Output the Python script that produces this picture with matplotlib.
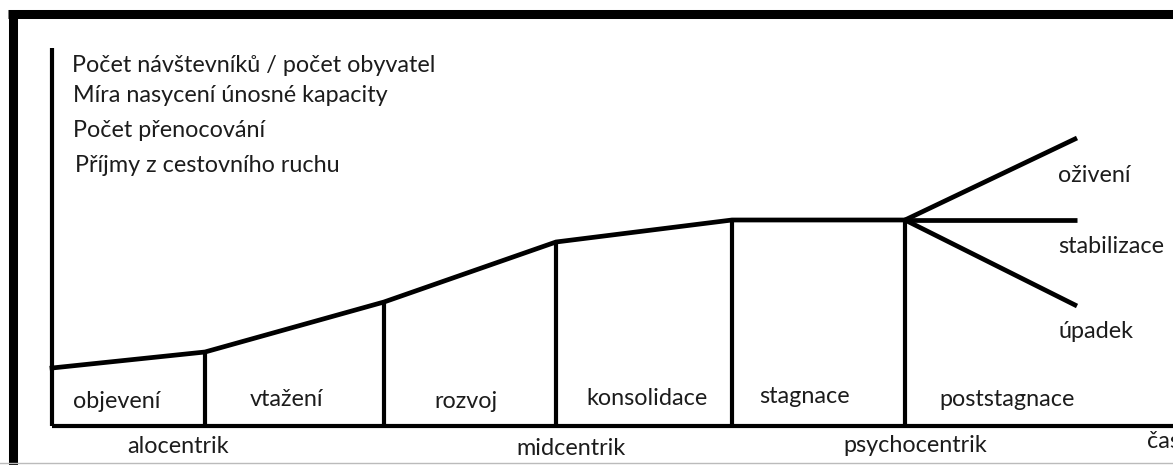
"""plot.py"""

import matplotlib.pyplot as plt
from matplotlib.lines import Line2D

# hranice fazi na ose casu a uroven krivky v techto bodech
phase_bounds = [0.0, 15.3, 33.2, 50.4, 68.0, 85.3]
curve_levels = [5.8, 7.4, 12.4, 18.4, 20.6, 20.6]
phase_names = ["objevení", "vtažení", "rozvoj", "konsolidace", "stagnace", "poststagnace"]
phase_label_x = [6.5, 23.4, 41.4, 59.5, 75.3, 95.5]
phase_label_y = [1.8, 2.0, 1.8, 2.1, 2.3, 2.0]

# vetve po stagnaci
branch_end_x = 102.5
branch_levels = [28.8, 20.6, 12.0]
branch_names = ["oživení", "stabilizace", "úpadek"]
branch_label_y = [24.4, 17.3, 8.8]

# ukazatele na ose y
indicators = [
    "Počet návštevníků / počet obyvatel",
    "Míra nasycení únosné kapacity",
    "Počet přenocování",
    "Příjmy z cestovního ruchu",
]
indicator_x = [2.0, 2.1, 2.1, 2.3]
indicator_y = [35.4, 32.4, 28.9, 25.4]

# typy turistu pod osou x
tourist_types = ["alocentrik", "midcentrik", "psychocentrik"]
tourist_x = [12.6, 51.9, 86.3]
tourist_y = [-2.7, -2.9, -2.6]

y_axis_top = 37.8
x_axis_end = 112.1

plt.rcParams["font.family"] = ["Lato", "DejaVu Sans"]
fig = plt.figure(figsize=(11.73, 4.65), dpi=100)
ax = fig.add_axes([0, 0, 1, 1])
ax.set_xlim(-5.2, 112.1)
ax.set_ylim(-3.9, 42.6)
ax.axis("off")

lw = 3.0
# osy
ax.plot([0, 0], [0, y_axis_top], color="black", lw=lw, solid_capstyle="butt")
ax.plot([0, x_axis_end], [0, 0], color="black", lw=lw, solid_capstyle="butt")

# svisle hranice fazi
for x, y in zip(phase_bounds[1:], curve_levels[1:]):
    ax.plot([x, x], [0, y], color="black", lw=lw, solid_capstyle="butt")

# krivka vyvoje
ax.plot(phase_bounds, curve_levels, color="black", lw=3.4, solid_joinstyle="miter")
for lvl in branch_levels:
    ax.plot([phase_bounds[-1], branch_end_x], [curve_levels[-1], lvl],
            color="black", lw=3.4, solid_capstyle="butt")

fs = 16.8
tc = "#1c1c1c"
for txt, x, y in zip(indicators, indicator_x, indicator_y):
    ax.text(x, y, txt, fontsize=fs, ha="left", va="baseline", color=tc)
for txt, x, y in zip(phase_names, phase_label_x, phase_label_y):
    ax.text(x, y, txt, fontsize=fs, ha="center", va="baseline", color=tc)
for txt, y in zip(branch_names, branch_label_y):
    ax.text(100.6, y, txt, fontsize=fs, ha="left", va="baseline", color=tc)
for txt, x, y in zip(tourist_types, tourist_x, tourist_y):
    ax.text(x, y, txt, fontsize=fs, ha="center", va="baseline", color=tc)
ax.text(109.5, -2.2, "čas", fontsize=fs, ha="left", va="baseline", color=tc)

# ramecek obrazku
fig.add_artist(Line2D([8 / 1173, 1], [1 - 14.5 / 465, 1 - 14.5 / 465],
                      color="black", lw=6.5, solid_capstyle="butt",
                      transform=fig.transFigure))
fig.add_artist(Line2D([12.5 / 1173, 12.5 / 1173], [1 - 10 / 465, 0],
                      color="black", lw=6.5, solid_capstyle="butt",
                      transform=fig.transFigure))
fig.add_artist(Line2D([0, 1], [2 / 465, 2 / 465], color="#bbbbbb", lw=1,
                      transform=fig.transFigure))

fig.savefig("out.png", dpi=100)
